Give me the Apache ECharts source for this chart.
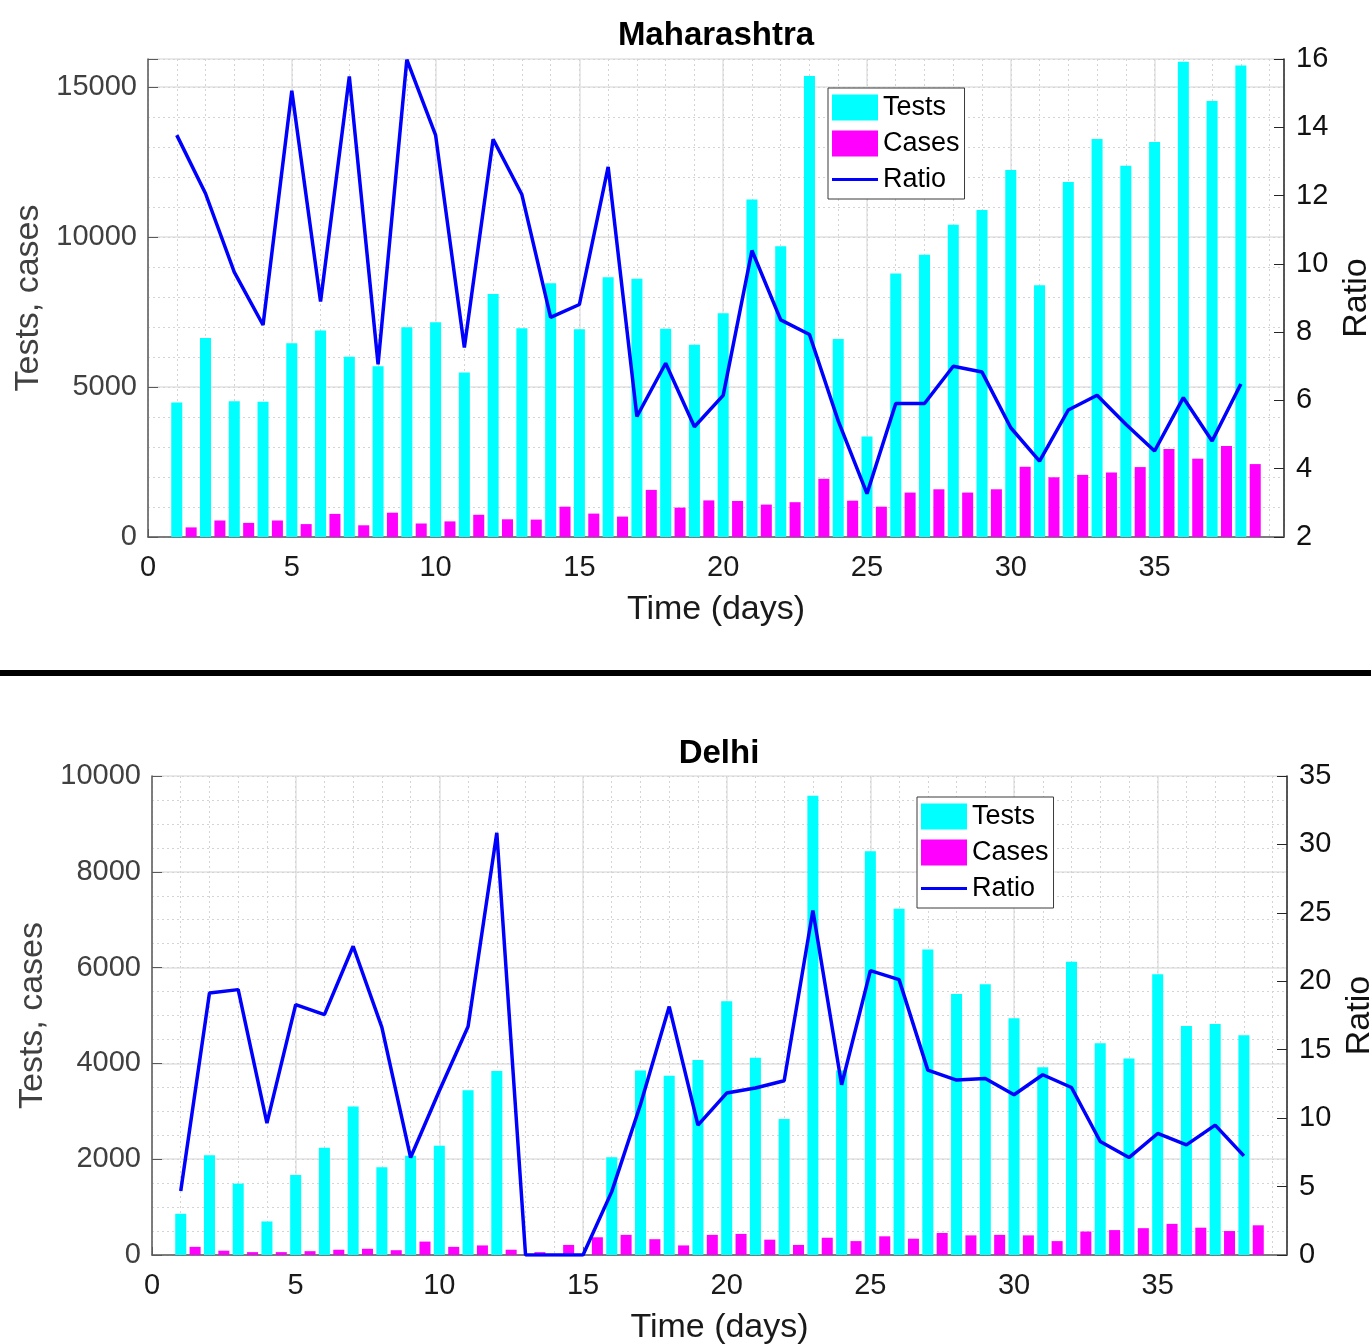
<!DOCTYPE html>
<html><head><meta charset="utf-8">
<script src="https://cdn.jsdelivr.net/npm/echarts@6/dist/echarts.min.js"></script>
<style>html,body{margin:0;padding:0;background:#fff;overflow:hidden}#c{width:1371px;height:1344px}</style>
</head><body><div id="c"></div>
<script>
// ---- data ----
const days = [1,2,3,4,5,6,7,8,9,10,11,12,13,14,15,16,17,18,19,20,21,22,23,24,25,26,27,28,29,30,31,32,33,34,35,36,37,38];
const mahTests = [4480,6630,4520,4510,6460,6880,6010,5690,6990,7160,5480,8100,6960,8460,6920,8660,8610,6940,6410,7460,11250,9690,15360,6600,3350,8780,9410,10410,10900,12230,8390,11830,13260,12370,13160,15840,14530,15710];
const mahCases = [320,550,470,550,430,770,390,810,450,520,740,590,580,1010,780,680,1570,980,1220,1200,1080,1160,1940,1210,1010,1480,1590,1480,1590,2340,1990,2070,2150,2330,2930,2610,3030,2430];
const mahRatio = [13.77,12.06,9.76,8.21,15.07,8.9,15.49,7.06,15.98,13.77,7.55,13.65,12.03,8.43,8.81,12.84,5.53,7.09,5.23,6.15,10.39,8.36,7.93,5.4,3.27,5.91,5.91,7.0,6.83,5.2,4.22,5.72,6.15,5.3,4.52,6.08,4.81,6.48];
const delTests = [860,2080,1490,700,1670,2240,3100,1830,2070,2280,3440,3840,0,0,0,2040,3850,3740,4070,5300,4120,2840,9590,3850,8430,7230,6380,5450,5650,4940,3920,6120,4420,4100,5860,4780,4820,4590];
const delCases = [170,90,60,60,80,110,130,100,280,170,200,110,60,210,370,420,330,200,420,440,320,210,360,290,390,340,460,410,420,410,290,490,520,560,650,570,500,620];
const delRatio = [4.68,19.15,19.39,9.63,18.29,17.56,22.56,16.63,7.12,12.0,16.7,30.85,0,0,0,4.63,11.0,18.15,9.49,11.83,12.2,12.73,25.17,12.44,20.78,20.12,13.51,12.78,12.9,11.71,13.17,12.24,8.29,7.12,8.88,8.05,9.49,7.24];
const xTicks = [0,5,10,15,20,25,30,35];
const seriesNames = ['Tests','Cases','Ratio'];

// ---- styling ----
const FONT = '"Liberation Sans", Arial, Helvetica, sans-serif';
const C_TEST = '#00FFFF', C_CASE = '#FF00FF', C_RATIO = '#0000FF';
const GRAY = '#5a5a5a', DARK = '#1a1a1a';
const TICK_FS = 29, NAME_FS = 34, TITLE_FS = 33, LEG_FS = 27;

const panels = [
  {title:'Maharashtra', tests:mahTests, cases:mahCases, ratio:mahRatio,
   grid:{left:148, top:59, width:1136, height:478}, titleX:716, titleTop:19,
   lMax:15930, lInt:5000, lMinor:1000, rMin:2, rMax:16, rInt:2, legend:{left:828, top:88}},
  {title:'Delhi', tests:delTests, cases:delCases, ratio:delRatio,
   grid:{left:152, top:776, width:1135, height:479}, titleX:719, titleTop:737,
   lMax:10000, lInt:2000, lMinor:500, rMin:0, rMax:35, rInt:5, legend:{left:917, top:797}}
];

// legend icon for the line: thin bar centred in a transparent 46x26 box
const LINE_ICON = 'path://M0,0 L0.01,0 L0.01,0.01 Z M0,11.5 L46,11.5 L46,14.5 L0,14.5 Z M45.99,25.99 L46,26 L45.99,26 Z';

const option = {
  animation:false,
  backgroundColor:'#fff',
  textStyle:{fontFamily:FONT},
  title:[], grid:[], xAxis:[], yAxis:[], series:[], legend:[],
  graphic:[{type:'rect', shape:{x:0, y:670, width:1371, height:6}, style:{fill:'#000'}, z:100}]
};

panels.forEach((p, gi) => {
  option.grid.push(Object.assign({containLabel:false, outerBoundsMode:'none'}, p.grid));
  option.title.push({text:p.title, left:p.titleX, top:p.titleTop, textAlign:'center', padding:0,
    textStyle:{fontFamily:FONT, fontSize:TITLE_FS, fontWeight:'bold', color:'#000'}});
  const xMain = option.xAxis.length;
  option.xAxis.push({type:'value', gridIndex:gi, position:'bottom', min:0, max:39.5, interval:5,
    axisLine:{lineStyle:{color:GRAY, width:1.5}},
    axisTick:{inside:true, length:8, lineStyle:{color:GRAY}},
    axisLabel:{fontFamily:FONT, fontSize:TICK_FS, color:DARK, margin:16,
      formatter:v => xTicks.indexOf(v) >= 0 ? String(v) : ''},
    splitLine:{show:true, lineStyle:{color:'#e2e2e2', width:1.5}},
    name:'Time (days)', nameLocation:'middle', nameGap:56,
    nameTextStyle:{fontFamily:FONT, fontSize:NAME_FS, color:DARK}});
  option.xAxis.push({type:'value', gridIndex:gi, position:'bottom', min:0, max:39.5, interval:1,
    axisLine:{show:false}, axisTick:{show:false}, axisLabel:{show:false},
    splitLine:{show:true, lineStyle:{color:'#d4d4d4', width:1, type:[2,3]}}});
  const yLeft = option.yAxis.length;
  option.yAxis.push({type:'value', gridIndex:gi, position:'left', min:0, max:p.lMax, interval:p.lInt,
    axisLine:{show:true, lineStyle:{color:GRAY, width:1.5}},
    axisTick:{show:true, inside:true, length:10, lineStyle:{color:GRAY}},
    axisLabel:{fontFamily:FONT, fontSize:TICK_FS, color:'#404040', margin:11,
      formatter:v => (v % p.lInt === 0) ? String(v) : ''},
    splitLine:{show:true, lineStyle:{color:'#e2e2e2', width:1.5}},
    name:'Tests, cases', nameLocation:'middle', nameGap:94, nameRotate:90,
    nameTextStyle:{fontFamily:FONT, fontSize:NAME_FS, color:'#404040'}});
  option.yAxis.push({type:'value', gridIndex:gi, position:'left', min:0, max:p.lMax, interval:p.lMinor,
    axisLine:{show:false}, axisTick:{show:false}, axisLabel:{show:false},
    splitLine:{show:true, lineStyle:{color:'#d4d4d4', width:1, type:[2,3]}}});
  const yRight = option.yAxis.length;
  option.yAxis.push({type:'value', gridIndex:gi, position:'right', min:p.rMin, max:p.rMax, interval:p.rInt,
    axisLine:{show:true, lineStyle:{color:'#262626', width:1.5}},
    axisTick:{show:true, inside:true, length:10, lineStyle:{color:'#262626'}},
    axisLabel:{fontFamily:FONT, fontSize:TICK_FS, color:'#111', margin:12, formatter:v => String(v)},
    splitLine:{show:false},
    name:'Ratio', nameLocation:'middle', nameGap:56, nameRotate:90,
    nameTextStyle:{fontFamily:FONT, fontSize:NAME_FS, color:'#111'}});

  option.series.push({name:'Tests', type:'bar', xAxisIndex:xMain, yAxisIndex:yLeft,
    data:days.map((d,i)=>[d, p.tests[i]]), barWidth:11, barGap:'-100%',
    itemStyle:{color:C_TEST}, z:2});
  option.series.push({name:'Cases', type:'bar', xAxisIndex:xMain, yAxisIndex:yLeft,
    data:days.map((d,i)=>[d + 0.5, p.cases[i]]), barWidth:11, barGap:'-100%',
    itemStyle:{color:C_CASE}, z:2});
  option.series.push({name:'Ratio', type:'line', xAxisIndex:xMain, yAxisIndex:yRight,
    data:days.map((d,i)=>[d, p.ratio[i]]), symbol:'none', showSymbol:false,
    lineStyle:{color:C_RATIO, width:3.5}, itemStyle:{color:C_RATIO}, z:5});

  option.legend.push({
    data:[{name:seriesNames[0], icon:'rect'}, {name:seriesNames[1], icon:'rect'},
          {name:seriesNames[2], icon:LINE_ICON, itemStyle:{color:C_RATIO}}],
    orient:'vertical', left:p.legend.left, top:p.legend.top,
    padding:[6,5,6,4], itemWidth:46, itemHeight:26, itemGap:9,
    backgroundColor:'#fff', borderColor:'#3a3a3a', borderWidth:1, z:10,
    textStyle:{fontFamily:FONT, fontSize:LEG_FS, color:'#000'}});
});

const chart = echarts.init(document.getElementById('c'), null, {renderer:'canvas'});
chart.setOption(option);
</script>
</body></html>
